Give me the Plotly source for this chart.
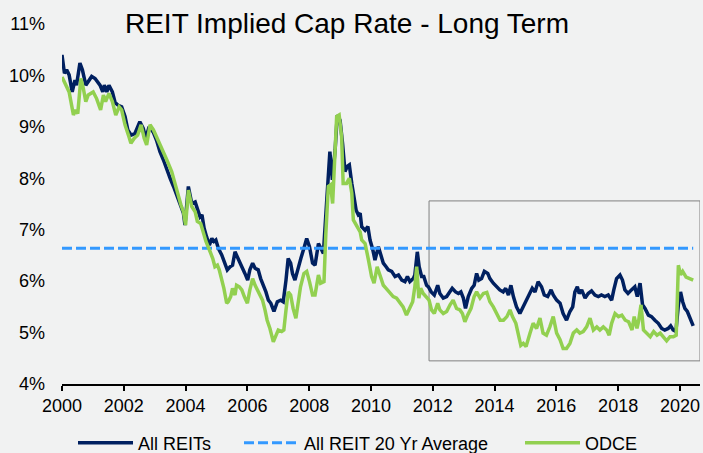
import plotly.graph_objects as go

# ---------------- data ----------------
reits_years = [
    2000.00, 2000.08, 2000.15, 2000.23, 2000.33, 2000.42, 2000.47, 2000.58, 2000.66, 2000.77,
    2000.96, 2001.07, 2001.23, 2001.32, 2001.37, 2001.45, 2001.52, 2001.63, 2001.72, 2001.82,
    2001.93, 2002.04, 2002.13, 2002.24, 2002.36, 2002.52, 2002.63, 2002.71, 2002.82, 2002.96,
    2003.06, 2003.17, 2003.28, 2003.39, 2003.50, 2003.61, 2003.72, 2003.82, 2003.93, 2003.98,
    2004.09, 2004.20, 2004.31, 2004.38, 2004.47, 2004.53, 2004.60, 2004.68, 2004.77, 2004.85,
    2004.92, 2004.98, 2005.06, 2005.17, 2005.28, 2005.35, 2005.44, 2005.52, 2005.60, 2005.71,
    2005.82, 2005.92, 2006.01, 2006.08, 2006.17, 2006.25, 2006.35, 2006.43, 2006.52, 2006.60,
    2006.68, 2006.76, 2006.86, 2006.97, 2007.08, 2007.16, 2007.25, 2007.32, 2007.40, 2007.46,
    2007.54, 2007.62, 2007.73, 2007.83, 2007.92, 2008.01, 2008.11, 2008.19, 2008.30, 2008.38,
    2008.46, 2008.57, 2008.67, 2008.75, 2008.84, 2008.91, 2009.00, 2009.08, 2009.16, 2009.23,
    2009.30, 2009.38, 2009.43, 2009.52, 2009.59, 2009.65, 2009.70, 2009.81, 2009.90, 2009.97,
    2010.06, 2010.13, 2010.24, 2010.32, 2010.40, 2010.49, 2010.56, 2010.67, 2010.78, 2010.89,
    2011.00, 2011.10, 2011.18, 2011.26, 2011.37, 2011.42, 2011.50, 2011.56, 2011.64, 2011.71,
    2011.80, 2011.86, 2011.95, 2012.05, 2012.16, 2012.23, 2012.34, 2012.45, 2012.56, 2012.63,
    2012.74, 2012.83, 2012.91, 2012.99, 2013.06, 2013.15, 2013.26, 2013.34, 2013.42, 2013.49,
    2013.58, 2013.67, 2013.78, 2013.85, 2013.96, 2014.07, 2014.17, 2014.28, 2014.36, 2014.45,
    2014.53, 2014.61, 2014.71, 2014.82, 2014.93, 2015.04, 2015.15, 2015.22, 2015.31, 2015.41,
    2015.52, 2015.61, 2015.72, 2015.83, 2015.90, 2016.01, 2016.12, 2016.22, 2016.33, 2016.44,
    2016.53, 2016.60, 2016.68, 2016.74, 2016.82, 2016.93, 2017.03, 2017.14, 2017.25, 2017.36,
    2017.46, 2017.57, 2017.68, 2017.79, 2017.86, 2017.95, 2018.06, 2018.14, 2018.22, 2018.32,
    2018.43, 2018.54, 2018.62, 2018.71, 2018.79, 2018.87, 2018.98, 2019.08, 2019.19, 2019.30,
    2019.41, 2019.51, 2019.62, 2019.70, 2019.78, 2019.87, 2019.95, 2020.02, 2020.09, 2020.16,
    2020.24, 2020.32, 2020.43,
]
reits_values = [
    10.40, 10.04, 10.11, 10.01, 9.68, 9.91, 9.81, 10.24, 10.11, 9.81,
    9.98, 9.94, 9.81, 9.68, 9.81, 9.68, 9.81, 9.68, 9.47, 9.42,
    9.39, 9.20, 8.94, 8.84, 8.87, 9.10, 8.97, 8.78, 9.00, 8.89,
    8.74, 8.52, 8.36, 8.16, 8.00, 7.84, 7.67, 7.51, 7.32, 7.09,
    7.84, 7.51, 7.54, 7.41, 7.25, 7.29, 7.03, 6.86, 6.70, 6.83,
    6.77, 6.80, 6.64, 6.51, 6.35, 6.22, 6.28, 6.31, 6.57, 6.41,
    6.28, 6.15, 6.02, 6.22, 6.35, 6.25, 6.22, 6.05, 5.92, 5.79,
    5.63, 5.57, 5.41, 5.60, 5.63, 5.60, 6.02, 6.44, 6.35, 6.15,
    6.02, 6.22, 6.44, 6.64, 6.83, 6.67, 6.35, 6.31, 6.73, 6.64,
    6.54, 7.58, 8.52, 7.97, 8.55, 9.23, 9.13, 8.68, 8.13, 8.23,
    8.26, 7.90, 7.71, 7.38, 7.29, 7.32, 7.06, 6.99, 7.06, 6.80,
    6.61, 6.41, 6.67, 6.51, 6.35, 6.28, 6.22, 6.19, 6.09, 6.12,
    6.02, 5.99, 6.09, 5.99, 6.05, 6.12, 6.57, 6.28, 6.09, 6.09,
    5.92, 5.89, 5.79, 5.73, 5.92, 5.76, 5.67, 5.70, 5.79, 5.86,
    5.79, 5.76, 5.79, 5.67, 5.47, 5.70, 5.86, 5.92, 6.15, 6.02,
    6.05, 6.19, 6.15, 6.05, 5.96, 5.89, 5.83, 5.79, 5.86, 5.73,
    5.92, 5.70, 5.50, 5.37, 5.50, 5.63, 5.79, 5.86, 5.79, 5.99,
    5.89, 5.73, 5.70, 5.83, 5.73, 5.63, 5.57, 5.37, 5.24, 5.41,
    5.50, 5.79, 5.89, 5.76, 5.83, 5.67, 5.76, 5.81, 5.73, 5.70,
    5.73, 5.70, 5.73, 5.63, 5.83, 6.05, 6.12, 6.02, 5.83, 5.76,
    5.83, 5.89, 5.70, 5.96, 5.54, 5.47, 5.34, 5.31, 5.24, 5.18,
    5.08, 5.05, 5.08, 5.13, 5.05, 5.02, 5.54, 5.79, 5.60, 5.47,
    5.41, 5.28, 5.13,
]

odce_years = [
    2000.00, 2000.12, 2000.23, 2000.37, 2000.44, 2000.51, 2000.61, 2000.69, 2000.77, 2000.85,
    2001.01, 2001.12, 2001.25, 2001.34, 2001.41, 2001.52, 2001.63, 2001.74, 2001.85, 2001.93,
    2002.04, 2002.15, 2002.23, 2002.34, 2002.45, 2002.56, 2002.66, 2002.74, 2002.85, 2002.96,
    2003.06, 2003.23, 2003.39, 2003.55, 2003.66, 2003.76, 2003.85, 2003.93, 2004.00, 2004.09,
    2004.20, 2004.31, 2004.38, 2004.49, 2004.57, 2004.66, 2004.77, 2004.88, 2004.95, 2005.03,
    2005.09, 2005.17, 2005.24, 2005.33, 2005.38, 2005.46, 2005.52, 2005.60, 2005.65, 2005.74,
    2005.82, 2005.90, 2006.00, 2006.08, 2006.17, 2006.25, 2006.32, 2006.41, 2006.49, 2006.57,
    2006.64, 2006.73, 2006.84, 2006.93, 2007.00, 2007.11, 2007.18, 2007.25, 2007.32, 2007.40,
    2007.48, 2007.57, 2007.64, 2007.72, 2007.83, 2007.92, 2008.01, 2008.11, 2008.19, 2008.30,
    2008.37, 2008.48, 2008.54, 2008.62, 2008.69, 2008.76, 2008.84, 2008.89, 2008.97, 2009.05,
    2009.10, 2009.21, 2009.30, 2009.38, 2009.43, 2009.54, 2009.65, 2009.70, 2009.81, 2009.92,
    2010.02, 2010.10, 2010.20, 2010.29, 2010.40, 2010.49, 2010.60, 2010.72, 2010.83, 2010.94,
    2011.04, 2011.15, 2011.26, 2011.35, 2011.42, 2011.48, 2011.55, 2011.61, 2011.69, 2011.80,
    2011.88, 2011.96, 2012.05, 2012.16, 2012.23, 2012.34, 2012.45, 2012.56, 2012.66, 2012.77,
    2012.88, 2012.96, 2013.04, 2013.13, 2013.24, 2013.34, 2013.42, 2013.53, 2013.64, 2013.75,
    2013.85, 2013.96, 2014.07, 2014.18, 2014.29, 2014.40, 2014.50, 2014.58, 2014.69, 2014.77,
    2014.85, 2014.93, 2015.02, 2015.15, 2015.25, 2015.36, 2015.47, 2015.57, 2015.68, 2015.79,
    2015.90, 2016.01, 2016.12, 2016.22, 2016.33, 2016.44, 2016.55, 2016.66, 2016.76, 2016.87,
    2016.98, 2017.09, 2017.20, 2017.31, 2017.41, 2017.52, 2017.63, 2017.71, 2017.79, 2017.90,
    2018.01, 2018.12, 2018.23, 2018.34, 2018.45, 2018.52, 2018.61, 2018.66, 2018.74, 2018.82,
    2018.93, 2019.04, 2019.15, 2019.26, 2019.36, 2019.47, 2019.57, 2019.68, 2019.79, 2019.88,
    2019.95, 2020.02, 2020.09, 2020.20, 2020.30, 2020.43,
]
odce_values = [
    9.97, 9.81, 9.68, 9.23, 9.33, 9.26, 9.94, 9.75, 9.49, 9.62,
    9.68, 9.55, 9.33, 9.62, 9.49, 9.65, 9.49, 9.23, 9.39, 9.33,
    9.04, 8.84, 8.68, 8.78, 8.84, 9.04, 8.78, 8.65, 9.04, 8.94,
    8.81, 8.58, 8.36, 8.13, 7.87, 7.67, 7.48, 7.35, 7.09, 7.77,
    7.45, 7.35, 7.16, 7.12, 6.93, 6.77, 6.61, 6.44, 6.28, 6.31,
    6.22, 6.05, 5.86, 5.57, 5.60, 5.70, 5.86, 5.73, 5.92, 5.89,
    5.83, 5.70, 5.57, 5.83, 6.05, 5.92, 5.83, 5.73, 5.63, 5.44,
    5.24, 5.08, 4.82, 4.95, 5.05, 5.02, 5.05, 5.44, 5.79, 5.73,
    5.47, 5.28, 5.60, 5.89, 6.15, 6.19, 5.99, 5.73, 5.73, 6.12,
    5.96, 5.99, 6.93, 7.84, 7.87, 7.51, 8.55, 9.20, 9.23, 8.81,
    7.90, 7.90, 8.00, 7.71, 7.19, 7.06, 6.96, 6.80, 6.73, 6.41,
    6.09, 5.96, 6.28, 6.12, 5.92, 5.86, 5.79, 5.70, 5.67, 5.57,
    5.50, 5.34, 5.47, 5.60, 5.89, 6.28, 5.67, 5.86, 5.76, 5.67,
    5.63, 5.44, 5.37, 5.57, 5.44, 5.37, 5.41, 5.54, 5.63, 5.47,
    5.44, 5.37, 5.21, 5.34, 5.47, 5.70, 5.79, 5.67, 5.76, 5.78,
    5.60, 5.50, 5.37, 5.24, 5.24, 5.31, 5.44, 5.31, 5.18, 4.99,
    4.75, 4.79, 4.73, 4.99, 5.18, 5.08, 5.28, 4.99, 4.95, 5.11,
    5.31, 4.99, 4.86, 4.69, 4.69, 4.79, 4.99, 5.05, 4.99, 5.02,
    5.11, 5.28, 5.05, 5.11, 5.05, 5.11, 5.05, 4.95, 5.18, 5.37,
    5.31, 5.34, 5.24, 5.21, 5.05, 5.31, 5.08, 5.21, 5.54, 5.05,
    4.99, 4.92, 5.02, 4.95, 4.99, 4.92, 4.84, 4.92, 4.92, 4.95,
    6.31, 6.12, 6.19, 6.08, 6.05, 6.02,
]

avg_years = [2000.0, 2020.43]
avg_values = [6.64, 6.64]

x_tick_values = [2000, 2002, 2004, 2006, 2008, 2010, 2012, 2014, 2016, 2018, 2020]
x_tick_labels = [str(v) for v in x_tick_values]
y_tick_values = [4, 5, 6, 7, 8, 9, 10, 11]
y_tick_labels = [f"{v}%" for v in y_tick_values]

# highlight box (data coordinates)
box_x0, box_x1 = 2011.88, 2020.65
box_y0, box_y1 = 4.45, 7.56

NAVY = "#002060"
GREEN = "#92d050"
BLUE = "#3399ff"
BG = "#f1f2f2"
FONT = "Arial, Liberation Sans, sans-serif"
W, H = 703, 453

fig = go.Figure()
fig.add_trace(go.Scatter(x=reits_years, y=reits_values, mode="lines", name="All REITs",
                         line=dict(color=NAVY, width=3.5), legend="legend"))
fig.add_trace(go.Scatter(x=avg_years, y=avg_values, mode="lines", name="All REIT 20 Yr Average",
                         line=dict(color=BLUE, width=3, dash="10px,4px"), legend="legend2"))
fig.add_trace(go.Scatter(x=odce_years, y=odce_values, mode="lines", name="ODCE",
                         line=dict(color=GREEN, width=3.5), legend="legend3"))

fig.add_shape(type="rect", xref="x", yref="y", x0=box_x0, x1=box_x1, y0=box_y0, y1=box_y1,
              line=dict(color="#808080", width=1), fillcolor="rgba(0,0,0,0)", layer="below")


def legend_at(px_left):
    return dict(orientation="h", x=px_left / W, xanchor="left", xref="container",
                y=1 - 443 / H, yref="container", yanchor="middle",
                font=dict(family=FONT, size=18, color="#000000"),
                bgcolor="rgba(0,0,0,0)", itemwidth=55)


fig.update_layout(
    width=W, height=H,
    paper_bgcolor=BG, plot_bgcolor=BG,
    margin=dict(l=62, r=3, t=24, b=69),
    font=dict(family=FONT, size=18, color="#000000"),
    title=dict(text="REIT Implied Cap Rate - Long Term", x=347 / W, xanchor="center",
               xref="container", y=1 - 23 / H, yanchor="middle", yref="container",
               font=dict(family=FONT, size=28, color="#000000")),
    showlegend=True,
    legend=legend_at(73),
    legend2=legend_at(239),
    legend3=legend_at(520),
)
fig.update_xaxes(range=[2000, 2020.65], tickmode="array", tickvals=x_tick_values,
                 ticktext=x_tick_labels, showgrid=False, zeroline=False,
                 showline=True, linecolor="#000000", linewidth=1.5,
                 ticks="outside", ticklen=5, tickcolor="#000000", tickwidth=1.5)
fig.update_yaxes(range=[4, 11], tickmode="array", tickvals=y_tick_values,
                 ticktext=y_tick_labels, showgrid=False, zeroline=False, showline=False,
                 ticks="", ticklabelstandoff=16)

fig.write_html(
    "out.html",
    config={"displayModeBar": False},
    post_script="document.body.style.margin='0';document.body.style.background='" + BG + "';",
)
